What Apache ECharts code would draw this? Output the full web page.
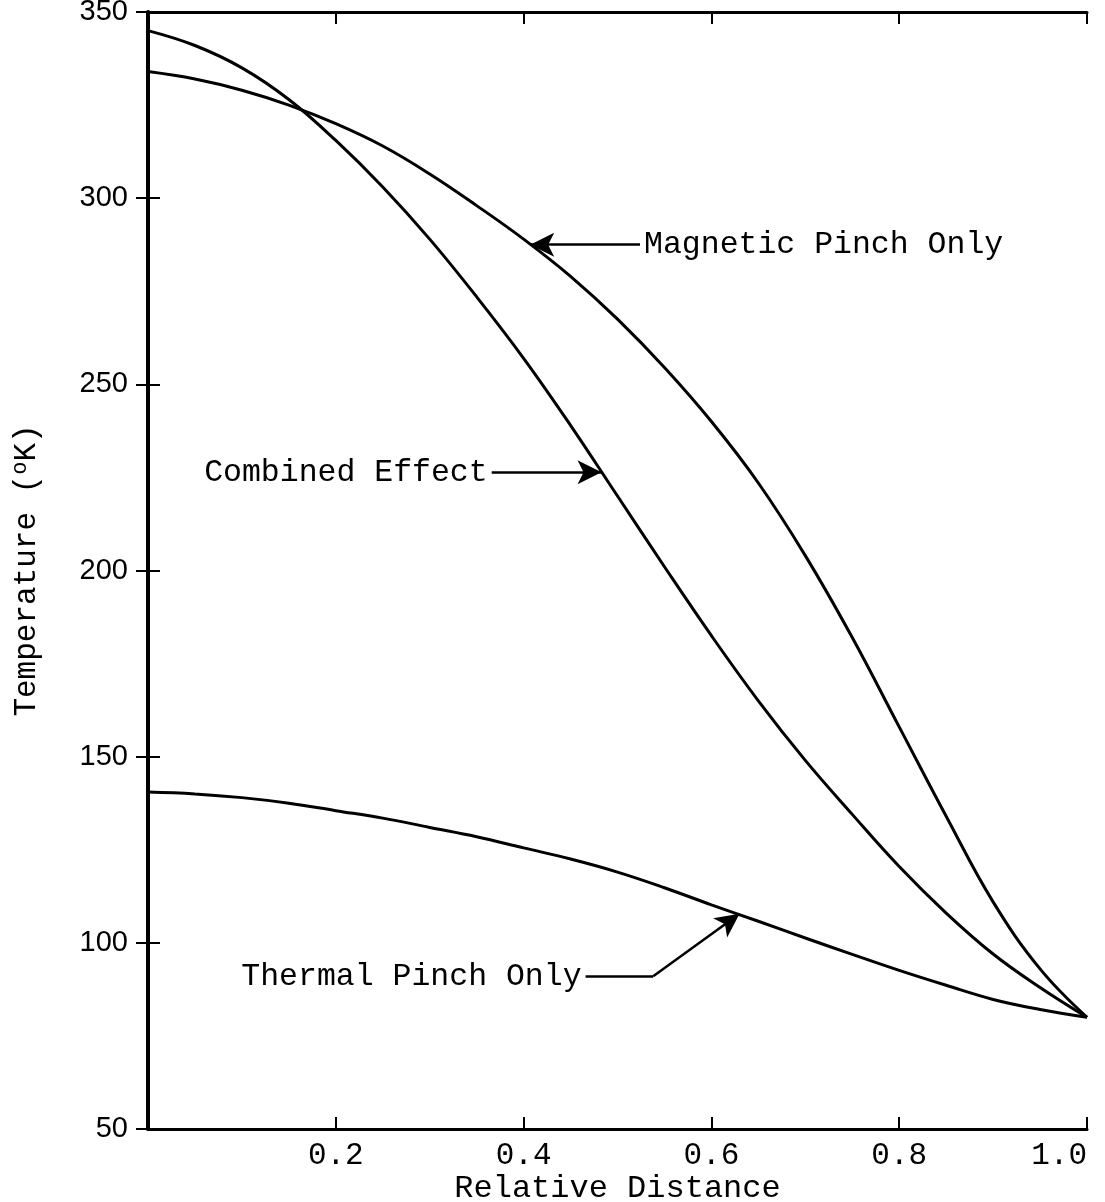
<!DOCTYPE html>
<html>
<head>
<meta charset="utf-8">
<script src="https://cdn.jsdelivr.net/npm/echarts@6/dist/echarts.min.js"></script>
<style>
  html, body { margin: 0; padding: 0; background: #fff; }
  #chart { width: 1105px; height: 1202px; }
</style>
</head>
<body>
<div id="chart"></div>
<script>
// Relative distance across the conductor
const distance = [0, 0.05, 0.1, 0.15, 0.2, 0.25, 0.3, 0.35, 0.4, 0.45, 0.5,
                  0.55, 0.6, 0.65, 0.7, 0.75, 0.8, 0.85, 0.9, 0.95, 1.0];

// Temperature profiles (deg K)
const magneticPinch = [334, 332, 329, 325, 320, 314, 306.5, 298, 289, 279, 267.5,
                       254.5, 240, 223.5, 204, 182, 158, 134, 111, 93, 80];
const combinedEffect = [345, 341, 335, 326.5, 315.5, 303, 289, 273.5, 257, 239, 220,
                        201, 182.5, 165, 149, 134.5, 120.5, 108, 97, 88, 80];
const thermalPinch = [140.5, 140, 139, 137.5, 135.5, 133.5, 131, 128.5, 125.5, 122.5, 119,
                      114.8, 110.2, 105.8, 101.3, 96.9, 92.6, 88.6, 84.8, 82.1, 80];

const xTicks = { min: 0, max: 1.0, step: 0.2 };
const yTicks = { min: 50, max: 350, step: 50 };

const mono = 'Liberation Mono';
const pair = ys => distance.map((x, i) => [x, ys[i]]);

const lineLabel = (text) => ({
  show: true,
  position: 'start',
  formatter: text,
  fontFamily: mono,
  fontSize: 31.5,
  color: '#000',
  distance: 4
});

const chart = echarts.init(document.getElementById('chart'), null, { renderer: 'canvas' });

const curve = (name, ys, mark) => ({
  name: name,
  type: 'line',
  data: pair(ys),
  smooth: 0.4,
  showSymbol: false,
  silent: true,
  animation: false,
  lineStyle: { color: '#000', width: 3 },
  markLine: mark
});

const arrowStyle = { color: '#000', width: 2.5, type: 'solid' };

chart.setOption({
  backgroundColor: '#fff',
  animation: false,
  grid: { left: 148, right: 18, top: 12, bottom: 73, outerBoundsMode: 'none', containLabel: false },
  xAxis: [{
    type: 'value',
    min: xTicks.min, max: xTicks.max, interval: xTicks.step,
    name: 'Relative Distance',
    nameLocation: 'middle',
    nameMoveOverlap: false,
    nameGap: 44,
    nameTextStyle: { fontFamily: mono, fontSize: 32, color: '#000' },
    axisLine: { lineStyle: { color: '#000', width: 3 } },
    axisTick: { inside: true, length: 12, lineStyle: { color: '#000', width: 2 } },
    axisLabel: {
      margin: 11,
      alignMaxLabel: 'right',
      fontFamily: mono, fontSize: 31, color: '#000',
      formatter: v => (v === 0 ? '' : v.toFixed(1))
    },
    splitLine: { show: false }
  }, {
    type: 'value', position: 'top',
    min: xTicks.min, max: xTicks.max, interval: xTicks.step,
    axisLine: { lineStyle: { color: '#000', width: 3 } },
    axisTick: { inside: true, length: 12, lineStyle: { color: '#000', width: 2 } },
    axisLabel: { show: false },
    splitLine: { show: false }
  }],
  yAxis: [{
    type: 'value',
    min: yTicks.min, max: yTicks.max, interval: yTicks.step,
    name: '{t|Temperature (}{s|o}{t|K)}',
    nameLocation: 'middle',
    nameMoveOverlap: false,
    nameGap: 103,
    nameTextStyle: {
      rich: {
        t: { fontFamily: mono, fontSize: 31, color: '#000' },
        s: { fontFamily: mono, fontSize: 22, color: '#000', verticalAlign: 'top', padding: [0, 0, 14, 0] }
      }
    },
    axisLine: { lineStyle: { color: '#000', width: 4 } },
    axisTick: { inside: true, length: 12, lineStyle: { color: '#000', width: 2 } },
    axisLabel: { margin: 20, fontFamily: 'Liberation Sans', fontSize: 29, color: '#000' },
    splitLine: { show: false }
  }, {
    type: 'value', position: 'right',
    min: yTicks.min, max: yTicks.max, interval: yTicks.step,
    axisLine: { lineStyle: { color: '#000', width: 3 } },
    axisTick: { inside: true, length: 12, lineStyle: { color: '#000', width: 2 } },
    axisLabel: { show: false },
    splitLine: { show: false }
  }],
  series: [
    curve('Magnetic Pinch Only', magneticPinch, {
      silent: true, animation: false,
      symbol: ['none', 'arrow'], symbolSize: [18, 24],
      lineStyle: arrowStyle,
      data: [[
        { coord: [0.524, 287.5], label: lineLabel('Magnetic Pinch Only') },
        { coord: [0.407, 287.5] }
      ]]
    }),
    curve('Combined Effect', combinedEffect, {
      silent: true, animation: false,
      symbol: ['none', 'arrow'], symbolSize: [18, 24],
      lineStyle: arrowStyle,
      data: [[
        { coord: [0.366, 226.4], label: lineLabel('Combined Effect') },
        { coord: [0.483, 226.4] }
      ]]
    }),
    curve('Thermal Pinch Only', thermalPinch, {
      silent: true, animation: false,
      lineStyle: arrowStyle,
      data: [
        [
          { coord: [0.466, 91.0], symbol: 'none', label: lineLabel('Thermal Pinch Only') },
          { coord: [0.538, 91.0], symbol: 'none' }
        ],
        [
          { coord: [0.538, 91.0], symbol: 'none', label: { show: false } },
          { coord: [0.630, 107.8], symbol: 'arrow', symbolSize: [18, 24] }
        ]
      ]
    })
  ]
});
</script>
</body>
</html>
